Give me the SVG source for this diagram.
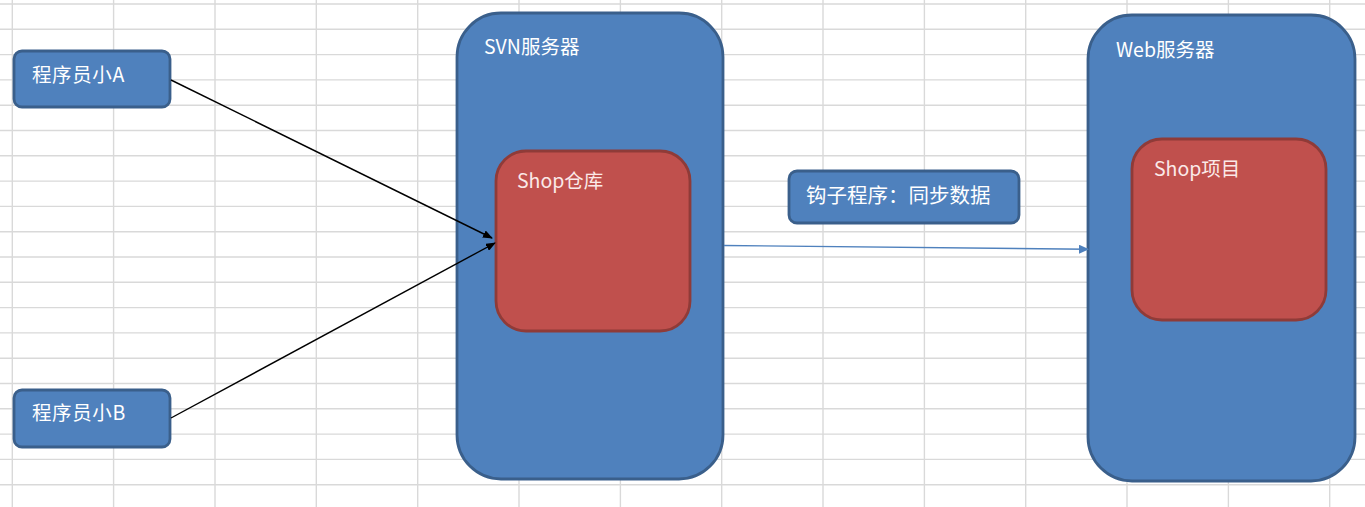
<svg xmlns="http://www.w3.org/2000/svg" width="1365" height="507" viewBox="0 0 1365 507">
<style>
.grid line{stroke:#d9d9d9;stroke-width:1.4}
.blue{fill:#4f81bd;stroke:#3a5f8b;stroke-width:2.8}
.red{fill:#c0504d;stroke:#8f3b38;stroke-width:2.8}
.t{font-family:"Noto Sans CJK SC","Noto Sans",sans-serif;font-size:19.5px;fill:#ffffff}
.tr{fill:#fbe9e8}
</style>
<defs>
<marker id="ah" markerWidth="10" markerHeight="8" refX="9" refY="4" orient="auto" markerUnits="userSpaceOnUse">
<path d="M0,0 L10,4 L0,8 Z" fill="#000000"/>
</marker>
<marker id="ahb" markerWidth="10" markerHeight="9" refX="9" refY="4.5" orient="auto" markerUnits="userSpaceOnUse">
<path d="M0,0 L10,4.5 L0,9 Z" fill="#4f81bd"/>
</marker>
</defs>
<rect width="1365" height="507" fill="#ffffff"/>
<g class="grid">
<line x1="12.3" y1="0" x2="12.3" y2="507"/>
<line x1="113.6" y1="0" x2="113.6" y2="507"/>
<line x1="215" y1="0" x2="215" y2="507"/>
<line x1="316.3" y1="0" x2="316.3" y2="507"/>
<line x1="417.7" y1="0" x2="417.7" y2="507"/>
<line x1="519" y1="0" x2="519" y2="507"/>
<line x1="620.4" y1="0" x2="620.4" y2="507"/>
<line x1="721.7" y1="0" x2="721.7" y2="507"/>
<line x1="823" y1="0" x2="823" y2="507"/>
<line x1="924.4" y1="0" x2="924.4" y2="507"/>
<line x1="1025.7" y1="0" x2="1025.7" y2="507"/>
<line x1="1127" y1="0" x2="1127" y2="507"/>
<line x1="1228.4" y1="0" x2="1228.4" y2="507"/>
<line x1="1329.7" y1="0" x2="1329.7" y2="507"/>
<line x1="0" y1="4" x2="1365" y2="4"/>
<line x1="0" y1="29.3" x2="1365" y2="29.3"/>
<line x1="0" y1="54.6" x2="1365" y2="54.6"/>
<line x1="0" y1="79.9" x2="1365" y2="79.9"/>
<line x1="0" y1="105.2" x2="1365" y2="105.2"/>
<line x1="0" y1="130.5" x2="1365" y2="130.5"/>
<line x1="0" y1="155.8" x2="1365" y2="155.8"/>
<line x1="0" y1="181.1" x2="1365" y2="181.1"/>
<line x1="0" y1="206.4" x2="1365" y2="206.4"/>
<line x1="0" y1="231.7" x2="1365" y2="231.7"/>
<line x1="0" y1="257" x2="1365" y2="257"/>
<line x1="0" y1="282.3" x2="1365" y2="282.3"/>
<line x1="0" y1="307.6" x2="1365" y2="307.6"/>
<line x1="0" y1="332.9" x2="1365" y2="332.9"/>
<line x1="0" y1="358.2" x2="1365" y2="358.2"/>
<line x1="0" y1="383.5" x2="1365" y2="383.5"/>
<line x1="0" y1="408.8" x2="1365" y2="408.8"/>
<line x1="0" y1="434.1" x2="1365" y2="434.1"/>
<line x1="0" y1="459.4" x2="1365" y2="459.4"/>
<line x1="0" y1="484.7" x2="1365" y2="484.7"/>
</g>
<g id="svn-server">
<rect class="blue" x="457" y="13" width="266" height="466" rx="44" ry="44"/>
<text class="t" x="484" y="54">SVN服务器</text>
</g>
<g id="shop-repo">
<rect class="red" x="496" y="151" width="194" height="180" rx="30" ry="30"/>
<text class="t tr" x="517" y="188">Shop仓库</text>
</g>
<g id="web-server">
<rect class="blue" x="1088" y="15" width="267" height="466" rx="44" ry="44"/>
<text class="t" x="1116" y="57">Web服务器</text>
</g>
<g id="shop-project">
<rect class="red" x="1132" y="139" width="194" height="181" rx="30" ry="30"/>
<text class="t tr" x="1154" y="176">Shop项目</text>
</g>
<g id="programmer-a">
<rect class="blue" x="14" y="51" width="156" height="56" rx="8" ry="8"/>
<text class="t" x="32" y="82" style="letter-spacing:0.6px">程序员小A</text>
</g>
<g id="programmer-b">
<rect class="blue" x="14" y="390" width="156" height="57" rx="8" ry="8"/>
<text class="t" x="32" y="420" style="letter-spacing:0.6px">程序员小B</text>
</g>
<g id="hook-label">
<rect class="blue" x="789" y="171" width="230" height="52" rx="8" ry="8"/>
<text class="t" x="806" y="203" style="font-size:20.5px">钩子程序：同步数据</text>
</g>
<g id="connectors">
<line x1="171" y1="80" x2="492" y2="238" stroke="#000000" stroke-width="1.4" marker-end="url(#ah)"/>
<line x1="171" y1="418" x2="495" y2="243" stroke="#000000" stroke-width="1.4" marker-end="url(#ah)"/>
<line x1="724" y1="245.5" x2="1088" y2="249.3" stroke="#4f81bd" stroke-width="1.4" marker-end="url(#ahb)"/>
</g>
</svg>
